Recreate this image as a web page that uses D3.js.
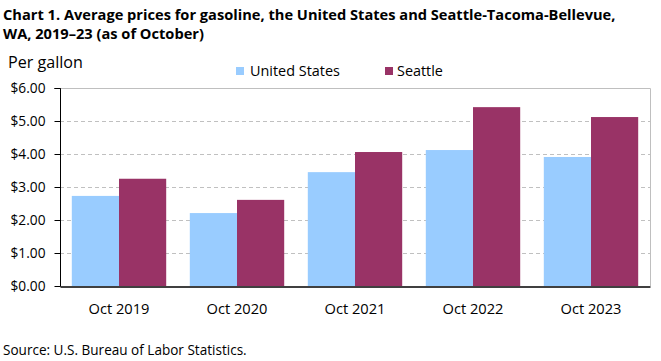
<!DOCTYPE html>
<html>
<head>
<meta charset="utf-8">
<script src="https://cdn.jsdelivr.net/npm/d3@7"></script>
<style>
  body { margin: 0; background: #fff; }
  svg { display: block; }
</style>
</head>
<body>
<svg width="661" height="361"></svg>
<script>
var categories = ['Oct 2019', 'Oct 2020', 'Oct 2021', 'Oct 2022', 'Oct 2023'],
    seriesNames = ['United States', 'Seattle'],
    usValues = [2.73, 2.21, 3.45, 4.12, 3.91],
    seattleValues = [3.25, 2.61, 4.06, 5.42, 5.12],
    yTicks = [0, 1, 2, 3, 4, 5, 6];

var width = 661,
    height = 361,
    margin = {left: 60, right: 11, top: 88, bottom: 75},
    colors = ['#99ccff', '#993366'],
    textFont = 'Open Sans, sans-serif';

var svg = d3.select('svg');

// scale font-size so that the text gets the width measured on the reference
function fitFont(sel, target) {
    sel.attr('font-size', 20);
    var w = sel.node().getComputedTextLength();
    var size = 20 * target / w;
    sel.attr('font-size', size);
    return size;
}

var x = d3.scaleBand()
    .domain(categories)
    .range([margin.left, width - margin.right]);

var y = d3.scaleLinear()
    .domain([0, 6])
    .range([height - margin.bottom, margin.top]);

var barW = x.bandwidth() * 0.4,
    barOffset = (x.bandwidth() - 2 * barW) / 2;

// title
var title1 = svg.append('text')
    .attr('x', 3)
    .attr('y', 20)
    .attr('font-family', textFont)
    .attr('font-weight', 'bold')
    .text('Chart 1. Average prices for gasoline, the United States and Seattle-Tacoma-Bellevue,');
var titleSize = fitFont(title1, 613);
svg.append('text')
    .attr('x', 3)
    .attr('y', 39)
    .attr('font-family', textFont)
    .attr('font-weight', 'bold')
    .attr('font-size', titleSize)
    .text('WA, 2019\u201323 (as of October)');

var unit = svg.append('text')
    .attr('x', 8)
    .attr('y', 68)
    .attr('font-family', textFont)
    .text('Per gallon');
fitFont(unit, 75);

// gridlines
svg.append('g')
    .selectAll('line')
    .data(yTicks.filter(d => d > 0 && d < 6))
    .enter().append('line')
    .attr('x1', margin.left)
    .attr('x2', width - margin.right)
    .attr('y1', d => Math.round(y(d)) + 0.5)
    .attr('y2', d => Math.round(y(d)) + 0.5)
    .attr('stroke', '#c0c0c0')
    .attr('stroke-dasharray', '4,3');

// plot frame top / right
svg.append('path')
    .attr('d', `M${margin.left},${y(6) + 0.5}H${width - margin.right + 0.5}V${y(0)}`)
    .attr('fill', 'none')
    .attr('stroke', '#bfbfbf');

// bars
var data = categories.map((c, i) => ({cat: c, vals: [usValues[i], seattleValues[i]]}));

var group = svg.append('g')
    .selectAll('g')
    .data(data)
    .enter().append('g');

group.selectAll('rect')
    .data(d => d.vals.map((v, j) => ({cat: d.cat, v: v, j: j})))
    .enter().append('rect')
    .attr('x', d => x(d.cat) + barOffset + d.j * barW)
    .attr('width', barW)
    .attr('y', d => y(d.v))
    .attr('height', d => y(0) - y(d.v))
    .attr('fill', d => colors[d.j]);

// y axis
var yAxis = d3.axisLeft(y)
    .tickValues(yTicks)
    .tickSize(6)
    .tickPadding(9)
    .tickFormat(d => '$' + d3.format('.2f')(d));

var gY = svg.append('g')
    .attr('transform', `translate(${margin.left + 0.5},0)`)
    .call(yAxis);
gY.select('.domain').attr('stroke', '#000').attr('d', `M-6,${y(6) + 0.5}H0V${y(0) + 0.5}`);
gY.selectAll('.tick line').attr('stroke', '#000');
var yLabels = gY.selectAll('.tick text')
    .attr('font-family', textFont)
    .attr('fill', '#000');
var ySize = fitFont(gY.selectAll('.tick text').filter(d => d === 6), 35);
yLabels.attr('font-size', ySize);

// x axis
var xAxis = d3.axisBottom(x)
    .tickSize(0)
    .tickPadding(12);

var gX = svg.append('g')
    .attr('transform', `translate(0,${y(0) + 0.5})`)
    .call(xAxis);
gX.select('.domain').attr('stroke', '#000').attr('stroke-width', 1.5);
var xLabels = gX.selectAll('.tick text')
    .attr('font-family', textFont)
    .attr('fill', '#000')
    .attr('dy', null)
    .attr('y', 313 - y(0));
var xSize = fitFont(xLabels.filter((d, i) => i === 0), 61);
xLabels.attr('font-size', xSize);

// legend
var legendX = [236, 385],
    legendW = [90, 46],
    legendGap = [6, 4];
var legend = svg.append('g')
    .selectAll('g')
    .data(seriesNames)
    .enter().append('g')
    .attr('transform', (d, i) => `translate(${legendX[i]},0)`);

legend.append('rect')
    .attr('x', 0)
    .attr('y', 67)
    .attr('width', 8)
    .attr('height', 8)
    .attr('fill', (d, i) => colors[i]);

legend.append('text')
    .attr('x', (d, i) => 8 + legendGap[i])
    .attr('y', 76)
    .attr('font-family', textFont)
    .text(d => d)
    .each(function(d, i) { fitFont(d3.select(this), legendW[i]); });

// source
var source = svg.append('text')
    .attr('x', 3)
    .attr('y', 355)
    .attr('font-family', textFont)
    .text('Source: U.S. Bureau of Labor Statistics.');
fitFont(source, 244);
</script>
</body>
</html>
